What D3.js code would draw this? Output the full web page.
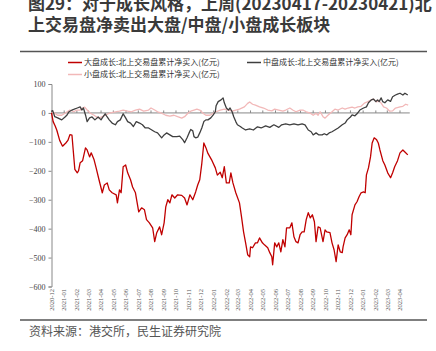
<!DOCTYPE html>
<html>
<head>
<meta charset="utf-8">
<script src="https://cdn.jsdelivr.net/npm/d3@7"></script>
<style>
  body { margin: 0; background: #fff; }
  svg { display: block; }
</style>
</head>
<body>
<div id="chart"></div>
<script>
// 大盘成长 (red)
const largeGrowth = [
  ["2020-12-01", 0], ["2020-12-05", -30], ["2020-12-10", -45], ["2020-12-14", -60],
  ["2020-12-21", -95], ["2020-12-28", -115], ["2021-01-05", -104], ["2021-01-10", -95],
  ["2021-01-15", -75], ["2021-01-20", -77], ["2021-01-23", -128], ["2021-01-27", -195],
  ["2021-02-02", -207], ["2021-02-05", -200], ["2021-02-09", -172], ["2021-02-15", -165],
  ["2021-02-22", -121], ["2021-02-26", -128], ["2021-03-04", -152], ["2021-03-08", -138],
  ["2021-03-15", -162], ["2021-03-20", -190], ["2021-03-27", -231], ["2021-04-04", -276],
  ["2021-04-09", -249], ["2021-04-16", -242], ["2021-04-21", -266], ["2021-04-28", -276],
  ["2021-05-08", -283], ["2021-05-11", -311], ["2021-05-16", -266], ["2021-05-20", -276],
  ["2021-05-25", -186], ["2021-05-31", -180], ["2021-06-05", -207], ["2021-06-12", -231],
  ["2021-06-17", -256], ["2021-06-24", -276], ["2021-07-02", -342], ["2021-07-09", -328],
  ["2021-07-16", -335], ["2021-07-21", -369], ["2021-07-28", -380], ["2021-08-05", -397],
  ["2021-08-10", -445], ["2021-08-15", -414], ["2021-08-22", -394], ["2021-08-27", -421],
  ["2021-09-02", -380], ["2021-09-06", -325], ["2021-09-11", -300], ["2021-09-16", -311],
  ["2021-09-21", -283], ["2021-09-28", -294], ["2021-10-05", -283], ["2021-10-15", -285],
  ["2021-10-22", -294], ["2021-10-28", -318], ["2021-11-04", -283], ["2021-11-11", -300],
  ["2021-11-18", -273], ["2021-11-23", -249], ["2021-11-28", -231], ["2021-12-03", -175],
  ["2021-12-08", -104], ["2021-12-13", -120], ["2021-12-18", -140], ["2021-12-28", -165],
  ["2022-01-05", -190], ["2022-01-10", -215], ["2022-01-17", -205], ["2022-01-22", -224],
  ["2022-01-27", -186], ["2022-02-01", -242], ["2022-02-08", -242], ["2022-02-12", -207],
  ["2022-02-17", -242], ["2022-02-24", -276], ["2022-03-05", -311], ["2022-03-10", -359],
  ["2022-03-15", -411], ["2022-03-20", -449], ["2022-03-25", -490], ["2022-03-30", -497],
  ["2022-04-01", -463], ["2022-04-06", -466], ["2022-04-13", -449], ["2022-04-18", -449],
  ["2022-04-23", -432], ["2022-04-30", -449], ["2022-05-05", -456], ["2022-05-13", -466],
  ["2022-05-18", -483], ["2022-05-23", -497], ["2022-05-25", -525], ["2022-05-30", -449],
  ["2022-06-04", -463], ["2022-06-09", -449], ["2022-06-14", -480], ["2022-06-19", -438],
  ["2022-06-24", -463], ["2022-06-28", -397], ["2022-07-06", -397], ["2022-07-11", -380],
  ["2022-07-16", -428], ["2022-07-21", -445], ["2022-07-26", -449], ["2022-07-31", -421],
  ["2022-08-05", -411], ["2022-08-10", -411], ["2022-08-15", -369], ["2022-08-20", -345],
  ["2022-08-25", -363], ["2022-08-30", -352], ["2022-09-04", -376], ["2022-09-08", -445],
  ["2022-09-13", -394], ["2022-09-18", -397], ["2022-09-25", -445], ["2022-09-30", -404],
  ["2022-10-04", -411], ["2022-10-12", -414], ["2022-10-17", -449], ["2022-10-22", -473],
  ["2022-10-27", -514], ["2022-11-01", -456], ["2022-11-06", -480], ["2022-11-11", -483],
  ["2022-11-13", -463], ["2022-11-18", -432], ["2022-11-23", -421], ["2022-11-28", -404],
  ["2022-12-02", -421], ["2022-12-05", -352], ["2022-12-12", -318], ["2022-12-17", -307],
  ["2022-12-22", -290], ["2022-12-27", -276], ["2023-01-02", -273], ["2023-01-06", -276],
  ["2023-01-09", -214], ["2023-01-14", -190], ["2023-01-19", -152], ["2023-01-23", -104],
  ["2023-01-28", -86], ["2023-02-03", -93], ["2023-02-07", -104], ["2023-02-11", -128],
  ["2023-02-18", -165], ["2023-02-23", -180], ["2023-03-02", -207], ["2023-03-09", -224],
  ["2023-03-14", -207], ["2023-03-19", -186], ["2023-03-26", -165], ["2023-04-01", -138],
  ["2023-04-08", -128], ["2023-04-13", -135], ["2023-04-20", -145]
];

// 中盘成长 (dark gray)
const midGrowth = [
  ["2020-12-01", 5], ["2020-12-04", 8], ["2020-12-09", -13], ["2020-12-16", -17],
  ["2020-12-26", -24], ["2021-01-03", -14], ["2021-01-08", -7], ["2021-01-12", 3],
  ["2021-01-20", 10], ["2021-01-24", 12], ["2021-02-02", 17], ["2021-02-09", 21],
  ["2021-02-13", 10], ["2021-02-17", 17], ["2021-02-22", -7], ["2021-02-26", -30],
  ["2021-03-04", -17], ["2021-03-10", -14], ["2021-03-17", -24], ["2021-03-25", -14],
  ["2021-04-01", -24], ["2021-04-04", -17], ["2021-04-11", -3], ["2021-04-16", -14],
  ["2021-04-21", -24], ["2021-04-28", -35], ["2021-05-06", -41], ["2021-05-11", -30],
  ["2021-05-18", -24], ["2021-05-25", -3], ["2021-05-31", -17], ["2021-06-05", -30],
  ["2021-06-12", -35], ["2021-06-19", -47], ["2021-06-26", -30], ["2021-07-04", -35],
  ["2021-07-11", -41], ["2021-07-18", -52], ["2021-07-26", -52], ["2021-08-03", -59],
  ["2021-08-10", -65], ["2021-08-17", -69], ["2021-08-27", -86], ["2021-09-02", -76],
  ["2021-09-08", -69], ["2021-09-16", -76], ["2021-09-23", -82], ["2021-10-03", -82],
  ["2021-10-10", -80], ["2021-10-18", -93], ["2021-10-22", -103], ["2021-10-28", -86],
  ["2021-11-02", -69], ["2021-11-06", -57], ["2021-11-11", -62], ["2021-11-14", -82],
  ["2021-11-18", -86], ["2021-11-23", -84], ["2021-11-28", -69], ["2021-12-03", -52],
  ["2021-12-08", -30], ["2021-12-13", -24], ["2021-12-18", -24], ["2021-12-25", -17],
  ["2021-12-31", -7], ["2022-01-05", 4], ["2022-01-07", 25], ["2022-01-12", 39],
  ["2022-01-19", 45], ["2022-01-24", 52], ["2022-01-27", 35], ["2022-02-01", 17],
  ["2022-02-06", 10], ["2022-02-10", 17], ["2022-02-15", 4], ["2022-02-19", -13],
  ["2022-02-24", -30], ["2022-02-28", -41], ["2022-03-07", -47], ["2022-03-12", -52],
  ["2022-03-20", -59], ["2022-03-30", -55], ["2022-04-08", -59], ["2022-04-18", -48],
  ["2022-04-27", -52], ["2022-05-08", -45], ["2022-05-18", -50], ["2022-05-28", -41],
  ["2022-06-09", -50], ["2022-06-16", -41], ["2022-06-26", -38], ["2022-07-06", -41],
  ["2022-07-16", -38], ["2022-07-26", -41], ["2022-08-05", -38], ["2022-08-12", -41],
  ["2022-08-20", -59], ["2022-08-27", -65], ["2022-09-01", -76], ["2022-09-08", -69],
  ["2022-09-15", -76], ["2022-09-23", -76], ["2022-09-28", -72], ["2022-10-04", -76],
  ["2022-10-10", -69], ["2022-10-17", -65], ["2022-10-24", -59], ["2022-11-01", -52],
  ["2022-11-11", -41], ["2022-11-18", -35], ["2022-11-23", -24], ["2022-12-01", -14],
  ["2022-12-05", -7], ["2022-12-12", -10], ["2022-12-17", -3], ["2022-12-24", 10],
  ["2023-01-02", 17], ["2023-01-09", 21], ["2023-01-14", 35], ["2023-01-21", 45],
  ["2023-01-26", 48], ["2023-02-01", 39], ["2023-02-05", 45], ["2023-02-09", 39],
  ["2023-02-14", 52], ["2023-02-18", 39], ["2023-02-23", 35], ["2023-03-02", 45],
  ["2023-03-09", 40], ["2023-03-14", 56], ["2023-03-21", 62], ["2023-03-26", 65],
  ["2023-04-01", 68], ["2023-04-08", 62], ["2023-04-13", 68], ["2023-04-20", 62]
];

// 小盘成长 (light pink)
const smallGrowth = [
  ["2020-12-01", 2], ["2020-12-09", -1], ["2020-12-16", -8], ["2020-12-26", -8],
  ["2021-01-03", -1], ["2021-01-10", 6], ["2021-01-15", 10], ["2021-01-24", 4],
  ["2021-02-01", 10], ["2021-02-09", 10], ["2021-02-15", 17], ["2021-02-20", 20],
  ["2021-02-26", 10], ["2021-03-06", -1], ["2021-03-15", -8], ["2021-03-20", -13],
  ["2021-03-27", -18], ["2021-04-04", -13], ["2021-04-11", -8], ["2021-04-21", -1],
  ["2021-05-06", 4], ["2021-05-16", 6], ["2021-05-25", 10], ["2021-06-05", 6],
  ["2021-06-14", 4], ["2021-06-24", 10], ["2021-07-04", 13], ["2021-07-14", 6],
  ["2021-07-26", 10], ["2021-08-01", 17], ["2021-08-10", 10], ["2021-08-17", 4],
  ["2021-08-27", -1], ["2021-09-06", -8], ["2021-09-16", -11], ["2021-09-26", -8],
  ["2021-10-05", -13], ["2021-10-15", -18], ["2021-10-22", -13], ["2021-10-30", -1],
  ["2021-11-06", 6], ["2021-11-14", 10], ["2021-11-21", 13], ["2021-11-28", 10],
  ["2021-12-06", -1], ["2021-12-13", -8], ["2021-12-23", -8], ["2021-12-31", -1],
  ["2022-01-07", 4], ["2022-01-17", 10], ["2022-01-27", 13], ["2022-02-06", 10],
  ["2022-02-15", 6], ["2022-02-24", 10], ["2022-03-05", 13], ["2022-03-17", 21],
  ["2022-03-25", 33], ["2022-03-30", 38], ["2022-04-06", 30], ["2022-04-13", 27],
  ["2022-04-23", 21], ["2022-05-03", 17], ["2022-05-13", 10], ["2022-05-23", 7],
  ["2022-05-30", 13], ["2022-06-09", 10], ["2022-06-19", 6], ["2022-06-26", 10],
  ["2022-07-06", 17], ["2022-07-13", 10], ["2022-07-21", 4], ["2022-07-31", 10],
  ["2022-08-07", 10], ["2022-08-15", 4], ["2022-08-25", -1], ["2022-09-01", -8],
  ["2022-09-08", -1], ["2022-09-13", -8], ["2022-09-18", 4], ["2022-09-25", -13],
  ["2022-09-30", -18], ["2022-10-07", -8], ["2022-10-17", 4], ["2022-10-24", 13],
  ["2022-11-01", 10], ["2022-11-11", 17], ["2022-11-18", 13], ["2022-11-25", 17],
  ["2022-12-05", 20], ["2022-12-12", 17], ["2022-12-19", 21], ["2022-12-27", 23],
  ["2023-01-04", 34], ["2023-01-11", 38], ["2023-01-19", 44], ["2023-01-26", 48],
  ["2023-02-03", 38], ["2023-02-07", 44], ["2023-02-14", 34], ["2023-02-20", 21],
  ["2023-02-27", 17], ["2023-03-07", 6], ["2023-03-14", 7], ["2023-03-21", 17],
  ["2023-04-01", 21], ["2023-04-08", 23], ["2023-04-15", 30], ["2023-04-21", 27]
];

const monthLabels = [
  "2020-12", "2021-01", "2021-02", "2021-03", "2021-04", "2021-05", "2021-06",
  "2021-07", "2021-08", "2021-09", "2021-10", "2021-11", "2021-12", "2022-01",
  "2022-02", "2022-03", "2022-04", "2022-05", "2022-06", "2022-07", "2022-08",
  "2022-09", "2022-10", "2022-11", "2022-12", "2023-01", "2023-02", "2023-03", "2023-04"
];

const yTicks = [100, 0, -100, -200, -300, -400, -500, -600];

const seriesNames = [
  "大盘成长:北上交易盘累计净买入(亿元)",
  "中盘成长:北上交易盘累计净买入(亿元)",
  "小盘成长:北上交易盘累计净买入(亿元)"
];

const titleLines = [
  "图29：对于成长风格，上周(20230417-20230421)北",
  "上交易盘净卖出大盘/中盘/小盘成长板块"
];
const sourceText = "资料来源：港交所，民生证券研究院";

const width = 436;
const height = 351;

const parseDay = d3.timeParse("%Y-%m-%d");
const parseMonth = d3.timeParse("%Y-%m");

const x = d3.scaleTime()
  .domain([parseMonth("2020-12"), parseMonth("2023-04")])
  .range([51.5, 400]);

const y = d3.scaleLinear()
  .domain([-600, 100])
  .range([286.5, 84]);

const svg = d3.select("#chart")
  .append("svg")
  .attr("width", width)
  .attr("height", height)
  .attr("viewBox", [0, 0, width, height]);

const cjk = "'Noto Sans CJK SC', sans-serif";
const serif = "'Liberation Serif', 'DejaVu Serif', serif";

// title
svg.append("g")
  .selectAll("text")
  .data(titleLines)
  .join("text")
  .attr("x", 28)
  .attr("y", (d, i) => 10 + i * 21)
  .attr("font-family", cjk)
  .attr("font-size", "17px")
  .attr("font-weight", "bold")
  .attr("fill", "#3a3a3a")
  .text(d => d);

// top and bottom rules
svg.append("line")
  .attr("x1", 20).attr("x2", 427)
  .attr("y1", 51.5).attr("y2", 51.5)
  .attr("stroke", "#555").attr("stroke-width", 1.6);

svg.append("line")
  .attr("x1", 20).attr("x2", 427)
  .attr("y1", 320).attr("y2", 320)
  .attr("stroke", "#555").attr("stroke-width", 1.6);

svg.append("text")
  .attr("x", 29)
  .attr("y", 336)
  .attr("font-family", cjk)
  .attr("font-size", "12px")
  .attr("fill", "#555")
  .text(sourceText);

// y axis
svg.append("g")
  .attr("transform", `translate(${x.range()[0]},0)`)
  .call(d3.axisLeft(y).tickValues(yTicks).tickSize(3).tickPadding(3).tickFormat(d3.format("d")))
  .call(g => g.select(".domain").attr("stroke", "#888"))
  .call(g => g.selectAll(".tick line").attr("stroke", "#888"))
  .call(g => g.selectAll("text")
    .attr("font-family", serif)
    .attr("font-size", "8px")
    .attr("fill", "#444"));

// zero line with month ticks
const lastDay = parseDay(largeGrowth[largeGrowth.length - 1][0]);
svg.append("line")
  .attr("x1", x.range()[0]).attr("x2", x(lastDay) + 2)
  .attr("y1", y(0)).attr("y2", y(0))
  .attr("stroke", "#888").attr("stroke-width", 1);

svg.append("g")
  .selectAll("line")
  .data(monthLabels)
  .join("line")
  .attr("x1", d => x(parseMonth(d)))
  .attr("x2", d => x(parseMonth(d)))
  .attr("y1", y(0))
  .attr("y2", y(0) - 2.5)
  .attr("stroke", "#888");

// month labels, rotated
svg.append("g")
  .selectAll("text")
  .data(monthLabels)
  .join("text")
  .attr("transform", d => `translate(${x(parseMonth(d)) + 2.3},289) rotate(-90)`)
  .attr("text-anchor", "end")
  .attr("font-family", serif)
  .attr("font-size", "6.5px")
  .attr("fill", "#555")
  .text(d => d);

// lines
const line = d3.line()
  .x(d => x(parseDay(d[0])))
  .y(d => y(d[1]));

const series = [
  { data: smallGrowth, color: "#f2b8b8", width: 1.3 },
  { data: midGrowth, color: "#3f3f3f", width: 1.3 },
  { data: largeGrowth, color: "#c00000", width: 1.3 }
];

svg.append("g")
  .selectAll("path")
  .data(series)
  .join("path")
  .attr("fill", "none")
  .attr("stroke", d => d.color)
  .attr("stroke-width", d => d.width)
  .attr("stroke-linejoin", "round")
  .attr("d", d => line(d.data));

// legend
const legendItems = [
  { name: seriesNames[0], color: "#c00000", lx: 68, ly: 62.5 },
  { name: seriesNames[1], color: "#3f3f3f", lx: 247, ly: 62.5 },
  { name: seriesNames[2], color: "#f2b8b8", lx: 68, ly: 74.5 }
];

const legend = svg.append("g")
  .selectAll("g")
  .data(legendItems)
  .join("g")
  .attr("transform", d => `translate(${d.lx},${d.ly})`);

legend.append("line")
  .attr("x1", 0).attr("x2", 14)
  .attr("stroke", d => d.color)
  .attr("stroke-width", 1.5);

legend.append("text")
  .attr("x", 16)
  .attr("dy", "0.35em")
  .attr("font-family", cjk)
  .attr("font-size", "8px")
  .attr("fill", "#333")
  .text(d => d.name);
</script>
</body>
</html>
